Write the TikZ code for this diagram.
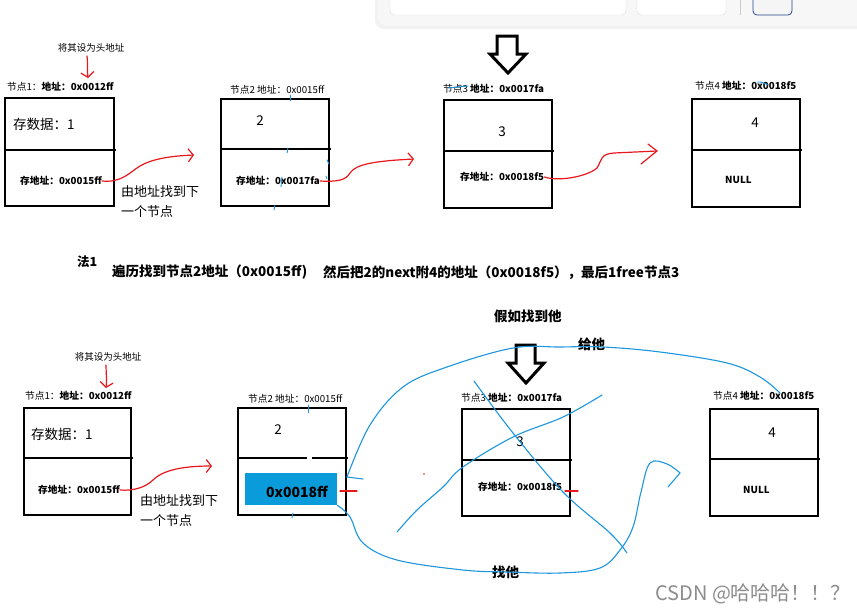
\documentclass[tikz,border=0pt]{standalone}
\usepackage{fontspec}
\setmainfont{Noto Sans CJK SC}
\usetikzlibrary{arrows.meta}
\definecolor{penred}{RGB}{232,24,28}
\definecolor{penblue}{RGB}{28,150,222}
\definecolor{hlblue}{RGB}{10,156,218}
\definecolor{wmgray}{RGB}{140,140,140}
\definecolor{btnblue}{RGB}{40,70,140}
\begin{document}
\begin{tikzpicture}[x=1pt,y=-1pt,
  box/.style={draw=black, line width=2.8pt, inner sep=0pt, outer sep=0pt},
  divl/.style={line width=2.8pt},
  lblr/.style={inner sep=0pt, anchor=west, font=\fontsize{9.7}{11}\selectfont},
  lblb/.style={inner sep=0pt, anchor=west, font=\bfseries\fontsize{9.7}{11}\selectfont},
  big/.style={inner sep=0pt, font=\fontsize{13.5}{15}\selectfont},
  bigb/.style={inner sep=0pt, anchor=west, font=\bfseries\fontsize{13.5}{15}\selectfont},
  note/.style={inner sep=0pt, anchor=north west, align=left, font=\fontsize{13}{20}\selectfont},
  tinyt/.style={inner sep=0pt, font=\fontsize{9.5}{11}\selectfont},
  redpen/.style={draw=penred, line width=1.2pt, line cap=round, line join=round},
  bluepen/.style={draw=penblue, line width=1.1pt, line cap=round, line join=round},
  hollow/.style={draw=black, line width=3pt, fill=white, line join=miter},
  barb/.style={-{Straight Barb[length=5pt,width=13pt]}}
]
\useasboundingbox (0,0) rectangle (857,613);
\fill[white] (0,0) rectangle (857,613);

% ---------- toolbar fragment ----------
\begin{scope}
\clip (0,0) rectangle (857,613);
\fill[black!5, rounded corners=9pt] (375,-12) rectangle (870,29);
\fill[black!3, rounded corners=8pt] (378,-12) rectangle (870,26);
\draw[black!15, fill=white, rounded corners=4pt] (390,-12) rectangle (626,15);
\draw[black!15, fill=white, rounded corners=4pt] (637,-12) rectangle (726,15);
\draw[black!20] (740,-2) -- (740,15);
\draw[btnblue, fill=black!4, rounded corners=4pt, line width=0.8pt] (753,-12) rectangle (792,15);
\end{scope}

% ================= TOP ROW =================
\node[tinyt] (h1) at (91,48) {将其设为头地址};
\coordinate (h1s) at (87,56);
\coordinate (h1e) at (88,78);
\draw[redpen, barb] (h1s) .. controls (88,64) and (87,70) .. (h1e);

\node[lblr] (lab1) at (7,87) {节点1：\textbf{地址：0x0012ff}};
\node[lblr] (lab2) at (230,90) {节点2 地址：0x0015ff};
\node[lblr] (lab3) at (443,89) {节点3 \textbf{地址：0x0017fa}};
\node[lblr] (lab4) at (695,86) {节点4 \textbf{地址：0x0018f5}};

\node[box, minimum width=109pt, minimum height=108pt] (t1) at (59.5,152) {};
\node[box, minimum width=108pt, minimum height=107pt] (t2) at (275,152.5) {};
\node[box, minimum width=108pt, minimum height=108pt] (t3) at (498,154) {};
\node[box, minimum width=108pt, minimum height=108pt] (t4) at (746,153) {};
\draw[divl] (t1.west |- 0,150) -- (t1.east |- 0,150) -- ++(2,0);
\draw[divl] (t2.west |- 0,149) -- (t2.east |- 0,149) -- ++(2,0);
\draw[divl] (t3.west |- 0,151) -- (t3.east |- 0,151) -- ++(2,0);
\draw[divl] (t4.west |- 0,150) -- (t4.east |- 0,150) -- ++(2,0);

\node[big, anchor=west] (d1) at (13,124) {存数据：1};
\node[lblb] (a1) at (20,181) {存地址：0x0015ff};
\node[note] (nt1) at (121,185) {由地址找到下\\一个节点};
\node[big] (d2) at (260,121) {2};
\node[lblb] (a2) at (236,181) {存地址：0x0017fa};
\node[big] (d3) at (502,132) {3};
\node[lblb] (a3) at (460,177) {存地址：0x0018f5};
\node[big] (d4) at (755,123) {4};
\node[lblb] (n4) at (725,180) {NULL};

% red hand-drawn arrows (top)
\coordinate (r1e) at (194,155);
\draw[redpen, barb] (a1.east) .. controls (122,183) and (130,172) .. (140,166)
   .. controls (152,159) and (170,156) .. (r1e);
\coordinate (r2e) at (414,159);
\draw[redpen, barb] (a2.east) .. controls (338,182) and (346,180) .. (350,173)
   .. controls (356,164) and (375,161) .. (r2e);
\coordinate (r3e) at (657,151);
\draw[redpen] (a3.east) .. controls (560,182) and (588,176) .. (597,168)
   .. controls (602,160) and (600,154) .. (614,153) -- (r3e);
\draw[redpen] (648,144) -- (r3e) -- (641,164);

% big hollow arrow (top)
\draw[hollow] (497,36) -- (517,36) -- (517,54) -- (526,54) -- (508,73) -- (490,54) -- (497,54) -- cycle;

% small blue marks (top)
\draw[bluepen, line width=0.9pt] (290,95) -- (290,101);
\draw[bluepen, line width=0.9pt] (288,148) -- (287,153);
\draw[bluepen, line width=0.9pt] (327,160) -- (329,164);
\draw[bluepen, line width=0.9pt] (326,176) -- (327,179);
\draw[bluepen, line width=0.9pt] (282,177) -- (281,187);
\draw[bluepen, line width=0.9pt] (275,205) -- (274,210);
\draw[bluepen, line width=0.9pt] (448,88) -- (468,86);
\draw[bluepen, line width=0.9pt] (757,82) .. controls (762,82) .. (768,85);

% ================= MIDDLE TEXT =================
\node[bigb, font=\bfseries\fontsize{12.5}{15}\selectfont] (fa) at (77,262) {法1};
\node[bigb] (m1) at (112,272) {遍历找到节点2地址（0x0015ff)};
\node[bigb] (m2) at (323,273) {然后把2的next附4的地址（0x0018f5），最后1free节点3};
\node[bigb] (jr) at (494,316) {假如找到他};

% ================= BOTTOM ROW =================
\node[tinyt] (h2) at (108,357) {将其设为头地址};
\coordinate (h2s) at (106,365);
\coordinate (h2e) at (106,388);
\draw[redpen, barb] (h2s) .. controls (106,372) and (107,380) .. (h2e);

\node[lblr] (lab5) at (25,396) {节点1：\textbf{地址：0x0012ff}};
\node[lblr] (lab6) at (248,399) {节点2 地址：0x0015ff};
\node[lblr] (lab7) at (461,398) {节点3 \textbf{地址：0x0017fa}};
\node[lblr] (lab8) at (713,396) {节点4 \textbf{地址：0x0018f5}};

\node[box, minimum width=107pt, minimum height=107pt] (b1) at (77.5,461.5) {};
\node[box, minimum width=108pt, minimum height=107pt] (b2) at (292,461.5) {};
\node[box, minimum width=108pt, minimum height=107pt] (b3) at (516,462.5) {};
\node[box, minimum width=108pt, minimum height=107pt] (b4) at (764,462.5) {};
\draw[divl] (b1.west |- 0,458) -- (b1.east |- 0,458) -- ++(2,0);
\draw[divl] (b2.west |- 0,458) -- (307,458);
\draw[divl] (312,458) -- (b2.east |- 0,458) -- ++(2,0);
\draw[divl] (b3.west |- 0,460) -- (b3.east |- 0,460) -- ++(2,0);
\draw[divl] (b4.west |- 0,459) -- (b4.east |- 0,459) -- ++(2,0);

\node[big, anchor=west] (d5) at (31,434) {存数据：1};
\node[lblb] (a5) at (38,490) {存地址：0x0015ff};
\node[note] (nt2) at (140,494) {由地址找到下\\一个节点};
\node[big] (d6) at (278,430) {2};
\node[fill=hlblue, minimum width=92pt, minimum height=32pt, inner sep=0pt] (hl) at (291,489) {};
\node[inner sep=0pt, font=\bfseries\fontsize{14}{16}\selectfont] (hlt) at (297,492) {0x0018ff};
\node[big] (d7) at (520,442) {3};
\node[lblb] (a7) at (478,487) {存地址：0x0018f5};
\node[big] (d8) at (772,433) {4};
\node[lblb] (n8) at (743,490) {NULL};

\coordinate (r5e) at (212,466);
\draw[redpen, barb] (a5.east) .. controls (132,491) and (145,488) .. (153,480)
   .. controls (162,471) and (180,466) .. (r5e);

% red ticks
\draw[redpen] (340,491) -- (357,491);
\draw[redpen] (565,491) -- (578,491);

% big hollow arrow (bottom)
\draw[hollow] (516,345) -- (535,345) -- (535,363) -- (544,363) -- (526,383) -- (508,363) -- (516,363) -- cycle;

% labels of blue strokes
\node[bigb] (gei) at (578,344) {给他};
\node[bigb] (zhao) at (492,572) {找他};

% blue strokes
\coordinate (c1s) at (780,393);
\coordinate (c1e) at (347,477);
\draw[bluepen] plot[smooth, tension=0.6] coordinates {(c1s) (760,377) (727,363) (660,352) (603,347) (560,347) (513,348) (447,367) (403,387) (370,425) (c1e)};
\draw[bluepen] (c1e) -- (363,479);

\coordinate (c2e) at (680,473);
\draw[bluepen] plot[smooth, tension=0.6] coordinates {(hl.south east) (350,517) (363,543) (397,560) (463,570) (507,572) (560,573) (600,568) (620,550) (633,527) (641,492) (650,463) (667,464) (c2e)};
\draw[bluepen] (c2e) -- (668,487);

\draw[bluepen] plot[smooth, tension=0.6] coordinates {(474,381) (513,433) (563,492) (610,533) (627,553)};
\draw[bluepen] plot[smooth, tension=0.6] coordinates {(397,532) (417,510) (443,487) (463,467) (513,437) (563,417) (602,395)};

\draw[bluepen, line width=0.9pt] (308,405) -- (308,413);
\draw[bluepen, line width=0.9pt] (293,513) -- (292,518);
\fill[penred] (424,474) circle (0.8pt);

% watermark
\node[anchor=west, inner sep=0pt, text=wmgray, font=\fontsize{20}{22}\selectfont] (wm) at (655,594) {CSDN @哈哈哈！！？};
\end{tikzpicture}
\end{document}
